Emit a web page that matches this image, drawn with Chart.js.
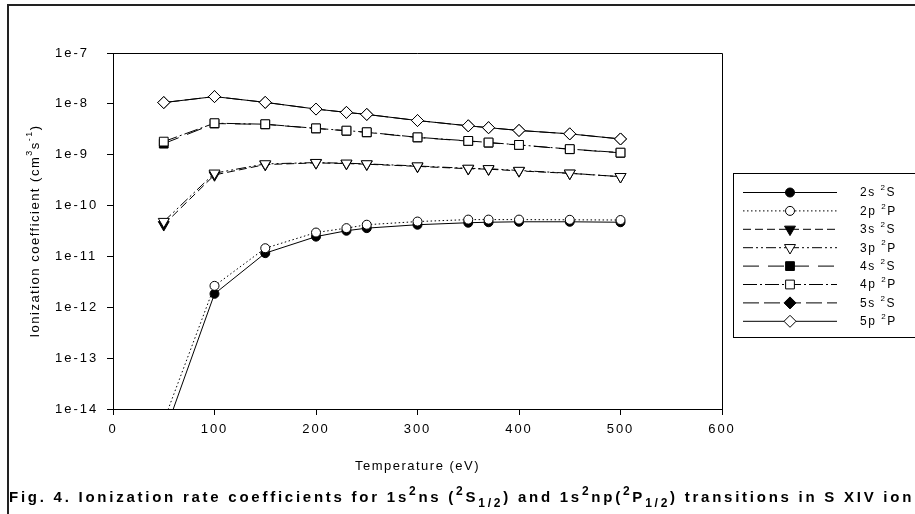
<!DOCTYPE html>
<html>
<head>
<meta charset="utf-8">
<script src="https://cdn.jsdelivr.net/npm/chart.js@4.4.1/dist/chart.umd.min.js"></script>
<style>
  html, body { margin: 0; padding: 0; background: #fff; overflow: hidden; }
  #wrap { position: relative; width: 915px; height: 514px; overflow: hidden; }
  #frame { position: absolute; left: 7px; top: 4px; width: 1000px; height: 600px; border: 2px solid #222; }
  #c { position: absolute; left: 0; top: 0; }
  #caption {
    position: absolute; left: 9px; top: 489px; white-space: nowrap; color: #000;
    font: bold 15px "Liberation Sans", Arial, sans-serif; letter-spacing: 2.75px; line-height: 15px;
  }
  #caption .sup { position: relative; top: -7px; font-size: 12px; }
  #caption .sub { position: relative; top: 5px; font-size: 12px; }
</style>
</head>
<body>
<div id="wrap">
  <div id="frame"></div>
  <canvas id="c" width="915" height="514"></canvas>
  <div id="caption">Fig. 4. Ionization rate coefficients for 1s<span class="sup">2</span>ns (<span class="sup">2</span>S<span class="sub">1/2</span>) and 1s<span class="sup">2</span>np(<span class="sup">2</span>P<span class="sub">1/2</span>) transitions in S XIV ion</div>
</div>
<script>
// ─── DATA ─────────────────────────────────────────────────────────────────────

const temps = [50, 100, 150, 200, 230, 250, 300, 350, 370, 400, 450, 500];

const rate2s = [3.0e-15, 1.84e-12, 1.16e-11, 2.45e-11, 3.2e-11, 3.6e-11, 4.2e-11, 4.6e-11, 4.7e-11, 4.8e-11, 4.8e-11, 4.7e-11];
const rate2p = [5.8e-15, 2.64e-12, 1.45e-11, 2.95e-11, 3.6e-11, 4.2e-11, 4.85e-11, 5.3e-11, 5.3e-11, 5.3e-11, 5.25e-11, 5.2e-11];
const rate3s = [4.2e-11, 4.0e-10, 6.4e-10, 6.9e-10, 6.7e-10, 6.5e-10, 5.9e-10, 5.3e-10, 5.2e-10, 4.8e-10, 4.3e-10, 3.7e-10];
const rate3p = [4.85e-11, 4.33e-10, 6.6e-10, 7.0e-10, 6.8e-10, 6.6e-10, 6.0e-10, 5.4e-10, 5.3e-10, 4.9e-10, 4.33e-10, 3.7e-10];
const rate4s = [1.65e-9, 4.1e-9, 3.95e-9, 3.28e-9, 2.95e-9, 2.75e-9, 2.18e-9, 1.85e-9, 1.72e-9, 1.55e-9, 1.28e-9, 1.09e-9];
const rate4p = [1.81e-9, 4.17e-9, 3.98e-9, 3.3e-9, 2.98e-9, 2.77e-9, 2.2e-9, 1.87e-9, 1.74e-9, 1.56e-9, 1.29e-9, 1.10e-9];
const rate5s = [1.06e-8, 1.39e-8, 1.07e-8, 7.9e-9, 6.8e-9, 6.2e-9, 4.7e-9, 3.7e-9, 3.4e-9, 3.0e-9, 2.57e-9, 2.04e-9];
const rate5p = [1.06e-8, 1.39e-8, 1.07e-8, 7.9e-9, 6.8e-9, 6.2e-9, 4.7e-9, 3.7e-9, 3.4e-9, 3.0e-9, 2.57e-9, 2.04e-9];

const shellNames = ['2s', '2p', '3s', '3p', '4s', '4p', '5s', '5p'];
const termNames  = ['S', 'P', 'S', 'P', 'S', 'P', 'S', 'P'];

const xTicks = [0, 100, 200, 300, 400, 500, 600];
const yTickValues = [1e-14, 1e-13, 1e-12, 1e-11, 1e-10, 1e-9, 1e-8, 1e-7];
const yTickLabels = ['1e-14', '1e-13', '1e-12', '1e-11', '1e-10', '1e-9', '1e-8', '1e-7'];

// ─── STYLES ───────────────────────────────────────────────────────────────────

const FONT = '"Liberation Sans", Arial, sans-serif';

// filled markers sit under the open ones (lower order = drawn on top)
const styles = [
  { pointStyle: 'circle',   radius: 4.5, filled: true,  dash: [],                 rotation: 0 },
  { pointStyle: 'circle',   radius: 4.5, filled: false, dash: [1.5, 2.5],         rotation: 0 },
  { pointStyle: 'triangle', radius: 6.3, filled: true,  dash: [8, 4],             rotation: 180 },
  { pointStyle: 'triangle', radius: 6.3, filled: false, dash: [10, 3, 2, 3, 2, 3], rotation: 180 },
  { pointStyle: 'rect',     radius: 6.2, filled: true,  dash: [16, 9],            rotation: 0 },
  { pointStyle: 'rect',     radius: 6.2, filled: false, dash: [14, 3, 2, 3],      rotation: 0 },
  { pointStyle: 'rectRot',  radius: 6,   filled: true,  dash: [16, 5],            rotation: 0 },
  { pointStyle: 'rectRot',  radius: 6,   filled: false, dash: [],                 rotation: 0 },
];

const allRates = [rate2s, rate2p, rate3s, rate3p, rate4s, rate4p, rate5s, rate5p];

const datasets = allRates.map((vals, i) => {
  const s = styles[i];
  return {
    label: shellNames[i] + ' ' + termNames[i],
    data: vals.map((v, j) => ({ x: temps[j], y: v })),
    borderColor: '#000',
    borderWidth: 1,
    borderDash: s.dash,
    backgroundColor: s.filled ? '#000' : '#fff',
    pointStyle: s.pointStyle,
    pointRadius: s.radius,
    pointHoverRadius: s.radius,
    pointRotation: s.rotation,
    pointBorderColor: '#000',
    pointBackgroundColor: s.filled ? '#000' : '#fff',
    pointBorderWidth: 1,
    tension: 0,
    fill: false,
    order: s.filled ? 2 : 1,
  };
});

// ─── TEXT HELPERS ─────────────────────────────────────────────────────────────

// parts: [{ t, sup }] ; sup parts are smaller and raised
function richWidth(ctx, parts, size) {
  let w = 0;
  parts.forEach(p => {
    ctx.font = (p.sup ? Math.round(size * 0.68) : size) + 'px ' + FONT;
    w += ctx.measureText(p.t).width;
  });
  return w;
}

function drawRich(ctx, parts, x, y, size, align) {
  const w = richWidth(ctx, parts, size);
  let cx = align === 'center' ? x - w / 2 : x;
  ctx.textAlign = 'left';
  parts.forEach(p => {
    const fs = p.sup ? Math.round(size * 0.68) : size;
    ctx.font = fs + 'px ' + FONT;
    ctx.fillText(p.t, cx, y - (p.sup ? size * 0.42 : 0));
    cx += ctx.measureText(p.t).width;
  });
}

// ─── DECOR PLUGIN: plot frame, axis titles, legend ────────────────────────────

const decor = {
  id: 'decor',
  beforeDraw(chart) {
    chart.ctx.letterSpacing = '2px';
  },
  afterDraw(chart) {
    const { ctx, chartArea: a } = chart;
    ctx.save();
    ctx.setLineDash([]);
    ctx.strokeStyle = '#000';
    ctx.lineWidth = 1;
    ctx.beginPath();
    ctx.moveTo(a.left, Math.round(a.top) + 0.5);
    ctx.lineTo(Math.round(a.right) + 0.5, Math.round(a.top) + 0.5);
    ctx.lineTo(Math.round(a.right) + 0.5, a.bottom);
    ctx.stroke();

    ctx.fillStyle = '#000';
    ctx.textBaseline = 'middle';

    // x title
    ctx.letterSpacing = '1.5px';
    ctx.font = '13px ' + FONT;
    ctx.textAlign = 'center';
    ctx.fillText('Temperature (eV)', (a.left + a.right) / 2, 466);

    // y title (rotated)
    ctx.save();
    ctx.translate(35, (a.top + a.bottom) / 2);
    ctx.rotate(-Math.PI / 2);
    drawRich(ctx, [
      { t: 'Ionization coefficient (cm' },
      { t: '3', sup: true },
      { t: 's' },
      { t: '-1', sup: true },
      { t: ')' },
    ], 0, 0, 13, 'center');
    ctx.restore();

    // legend box
    const lx = 733.5, ly = 173.5;
    ctx.strokeRect(lx, ly, 300, 164);
    const rowY0 = 192, rowStep = 18.4;
    chart.data.datasets.forEach((ds, i) => {
      const y = rowY0 + i * rowStep;
      ctx.setLineDash(ds.borderDash);
      ctx.lineWidth = 1;
      ctx.beginPath();
      ctx.moveTo(743, y + 0.5);
      ctx.lineTo(837, y + 0.5);
      ctx.stroke();
      ctx.setLineDash([]);
      ctx.fillStyle = ds.pointBackgroundColor;
      ctx.strokeStyle = '#000';
      Chart.helpers.drawPoint(ctx, {
        pointStyle: ds.pointStyle,
        rotation: ds.pointRotation,
        radius: ds.pointRadius,
        borderWidth: 1,
      }, 790, y + 0.5);
      ctx.fillStyle = '#000';
      ctx.letterSpacing = '1.5px';
      drawRich(ctx, [
        { t: shellNames[i] + ' ' },
        { t: '2', sup: true },
        { t: termNames[i] },
      ], 860, y + 1, 12, 'left');
    });
    ctx.restore();
  },
};

// ─── CHART ────────────────────────────────────────────────────────────────────

new Chart(document.getElementById('c'), {
  type: 'line',
  data: { datasets },
  options: {
    responsive: false,
    animation: false,
    events: [],
    layout: { padding: { left: 55, top: 53, right: 193, bottom: 65 } },
    plugins: { legend: { display: false }, tooltip: { enabled: false } },
    scales: {
      x: {
        type: 'linear',
        min: 0,
        max: 600,
        afterFit: s => { s.height = 40; },
        afterBuildTicks: s => { s.ticks = xTicks.map(v => ({ value: v })); },
        grid: { drawOnChartArea: false, drawTicks: true, tickLength: 6, color: '#000' },
        border: { display: true, color: '#000', width: 1 },
        ticks: { color: '#000', padding: 7, maxRotation: 0, font: { family: FONT, size: 13 } },
      },
      y: {
        type: 'logarithmic',
        min: 1e-14,
        max: 1e-7,
        afterFit: s => { s.width = 58; },
        afterBuildTicks: s => { s.ticks = yTickValues.map(v => ({ value: v })); },
        grid: { drawOnChartArea: false, drawTicks: true, tickLength: 6, color: '#000' },
        border: { display: true, color: '#000', width: 1 },
        ticks: {
          color: '#000',
          crossAlign: 'far',
          font: { family: FONT, size: 13 },
          callback: (v, idx) => yTickLabels[idx],
        },
      },
    },
  },
  plugins: [decor],
});
</script>
</body>
</html>
